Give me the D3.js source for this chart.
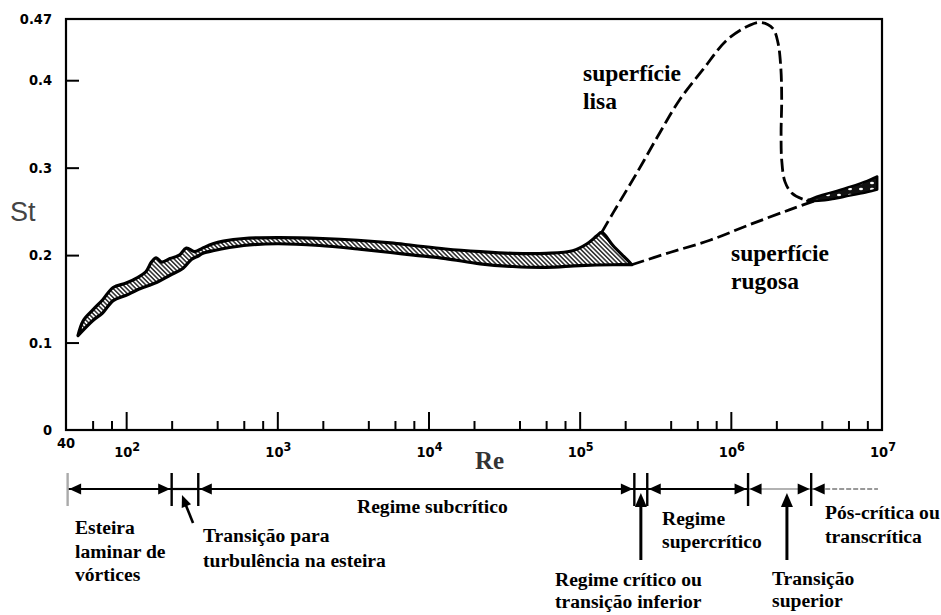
<!DOCTYPE html>
<html>
<head>
<meta charset="utf-8">
<script src="https://cdn.jsdelivr.net/npm/d3@7"></script>
<style>
  html, body { margin: 0; padding: 0; background: #fff; }
  svg { display: block; }
</style>
</head>
<body>
<svg id="chart" width="941" height="615"></svg>
<script>
// Strouhal number St versus Reynolds number Re for a circular cylinder

// ---- axis ticks ----
const yTickValues = [0.1, 0.2, 0.3, 0.4];
const yLabelValues = [0, 0.1, 0.2, 0.3, 0.4, 0.47];
const yLabelTexts = ["0", "0.1", "0.2", "0.3", "0.4", "0.47"];
const xMajorTicks = [1e2, 1e3, 1e4, 1e5, 1e6];
const xMajorExponents = ["2", "3", "4", "5", "6", "7"];
const xMajorLabelValues = [1e2, 1e3, 1e4, 1e5, 1e6, 1e7];
const xMinorTicks = [60, 80, 200, 400, 600, 800,
                     2e3, 4e3, 6e3, 8e3,
                     2e4, 4e4, 6e4, 8e4,
                     2e5, 4e5, 6e5, 8e5,
                     2e6, 4e6, 6e6, 8e6];

// ---- measured band (Re, St): upper and lower edges ----
const bandUpper = [
  [48, 0.108], [52, 0.125], [60, 0.137], [70, 0.149], [82, 0.163],
  [100, 0.168], [118, 0.174], [135, 0.181], [147, 0.192], [158, 0.197],
  [172, 0.192], [195, 0.196], [225, 0.200], [250, 0.208], [285, 0.204],
  [320, 0.208], [375, 0.213], [440, 0.216], [600, 0.219], [1000, 0.220],
  [2000, 0.219], [3400, 0.217], [5600, 0.214], [8000, 0.211], [13000, 0.207],
  [22000, 0.204], [36000, 0.202], [60000, 0.202], [90000, 0.205],
  [112000, 0.213], [130000, 0.222], [140000, 0.226], [166000, 0.211],
  [205000, 0.195], [221000, 0.189]
];
const bandLower = [
  [48, 0.108], [60, 0.125], [70, 0.134], [82, 0.148], [100, 0.154],
  [118, 0.160], [160, 0.169], [195, 0.177], [238, 0.185], [270, 0.195],
  [300, 0.199], [322, 0.202], [375, 0.205], [600, 0.211], [1000, 0.213],
  [1900, 0.211], [3400, 0.207], [5600, 0.203], [8000, 0.200], [13000, 0.196],
  [22000, 0.190], [36000, 0.187], [60000, 0.186], [100000, 0.188],
  [166000, 0.189], [221000, 0.189]
];

// ---- post-critical band (Re, St) ----
const postUpper = [
  [3.2e6, 0.262], [3.6e6, 0.266], [4.7e6, 0.272], [6.1e6, 0.278],
  [8.0e6, 0.285], [9.3e6, 0.290]
];
const postLower = [
  [3.2e6, 0.262], [3.8e6, 0.262], [4.7e6, 0.264], [6.1e6, 0.268],
  [8.0e6, 0.272], [9.3e6, 0.275]
];

// ---- dashed curves (Re, St) ----
const smoothSurface = [
  [1.40e5, 0.226], [1.66e5, 0.248], [2.39e5, 0.294], [3.39e5, 0.340],
  [4.60e5, 0.378], [6.53e5, 0.412], [9.42e5, 0.446], [1.34e6, 0.463],
  [1.60e6, 0.466], [1.90e6, 0.459], [2.05e6, 0.443], [2.14e6, 0.415],
  [2.17e6, 0.378], [2.15e6, 0.340], [2.17e6, 0.309], [2.28e6, 0.284],
  [2.53e6, 0.271], [2.99e6, 0.264], [3.33e6, 0.263]
];
const roughSurface = [
  [2.21e5, 0.189], [3.95e5, 0.203], [7.26e5, 0.217], [1.34e6, 0.235],
  [2.46e6, 0.252], [3.71e6, 0.263]
];

// ---- flow regimes along Re ----
const regimeBounds = [41, 200, 300, 2.3e5, 2.8e5, 1.3e6, 3.4e6];
const regimeLineEnd = 9.4e6;
const transitionMarks = [2.54e5, 2.35e6];

// ---- text ----
const curveLabels = [
  { lines: ["superfície", "lisa"], x: 583, y: 81 },
  { lines: ["superfície", "rugosa"], x: 731, y: 261 }
];
const regimeLabels = [
  { lines: ["Esteira", "laminar de", "vórtices"], x: 75, y: 534, dy: 23.5 },
  { lines: ["Transição para", "turbulência na esteira"], x: 203, y: 542, dy: 25 },
  { lines: ["Regime subcrítico"], x: 357, y: 513, dy: 0 },
  { lines: ["Regime", "supercrítico"], x: 662, y: 525, dy: 23 },
  { lines: ["Regime crítico ou", "transição inferior"], x: 555, y: 586, dy: 22 },
  { lines: ["Transição", "superior"], x: 772, y: 585, dy: 22 },
  { lines: ["Pós-crítica ou", "transcrítica"], x: 825, y: 519, dy: 24 }
];

const svg = d3.select("#chart");

const x = d3.scaleLog().domain([40, 1e7]).range([66, 882]);
const y = d3.scaleLinear().domain([0, 0.47]).range([430, 19]);

// patterns
const defs = svg.append("defs");
const hatch = defs.append("pattern")
  .attr("id", "hatch")
  .attr("patternUnits", "userSpaceOnUse")
  .attr("width", 3.2).attr("height", 3.2)
  .attr("patternTransform", "rotate(-45)");
hatch.append("rect").attr("width", 3.2).attr("height", 3.2).attr("fill", "#fff");
hatch.append("line").attr("x1", 0.8).attr("y1", 0).attr("x2", 0.8).attr("y2", 3.2)
  .attr("stroke", "#1a1a1a").attr("stroke-width", 1.4);

const speck = defs.append("pattern")
  .attr("id", "speck")
  .attr("patternUnits", "userSpaceOnUse")
  .attr("width", 11).attr("height", 6);
speck.append("rect").attr("width", 11).attr("height", 6).attr("fill", "#111");
speck.append("ellipse").attr("cx", 3).attr("cy", 3).attr("rx", 2).attr("ry", 1.2).attr("fill", "#fff");

// frame
svg.append("rect")
  .attr("x", x(40)).attr("y", y(0.47))
  .attr("width", x(1e7) - x(40)).attr("height", y(0) - y(0.47))
  .attr("fill", "none").attr("stroke", "#000").attr("stroke-width", 2.2);

// inward ticks
const xMinorAxis = d3.axisBottom(x).tickValues(xMinorTicks).tickSize(-9).tickFormat("");
const xMajorAxis = d3.axisBottom(x).tickValues(xMajorTicks).tickSize(-18).tickFormat("");
const yAxis = d3.axisLeft(y).tickValues(yTickValues).tickSize(-13).tickFormat("");

[xMinorAxis, xMajorAxis].forEach(ax => {
  const g = svg.append("g").attr("transform", `translate(0,${y(0)})`).call(ax);
  g.select(".domain").remove();
  g.selectAll(".tick line").attr("stroke", "#000").attr("stroke-width", 2);
});
{
  const g = svg.append("g").attr("transform", `translate(${x(40)},0)`).call(yAxis);
  g.select(".domain").remove();
  g.selectAll(".tick line").attr("stroke", "#000").attr("stroke-width", 2);
}

// tick labels
const tickFont = "'DejaVu Sans Condensed','Liberation Sans Narrow','DejaVu Sans',sans-serif";
svg.append("g").selectAll("text").data(yLabelValues).join("text")
  .attr("x", 52).attr("y", d => y(d)).attr("dy", "0.36em")
  .attr("text-anchor", "end")
  .attr("font-family", tickFont).attr("font-weight", "bold").attr("font-size", 14.5)
  .attr("fill", "#000")
  .text((d, i) => yLabelTexts[i]);

svg.append("text")
  .attr("x", x(40)).attr("y", 448).attr("text-anchor", "middle")
  .attr("font-family", tickFont).attr("font-weight", "bold").attr("font-size", 14.5)
  .attr("fill", "#000").text("40");

const pow = svg.append("g").selectAll("text").data(xMajorLabelValues).join("text")
  .attr("x", d => x(d) - 12).attr("y", 457)
  .attr("font-family", tickFont).attr("font-weight", "bold").attr("font-size", 14.5)
  .attr("fill", "#000");
pow.append("tspan").text("10");
pow.append("tspan").attr("dy", -6).attr("font-size", 12.5).text((d, i) => xMajorExponents[i]);

// axis titles
const serif = "'Liberation Serif','Times New Roman','DejaVu Serif',serif";
svg.append("text").attr("x", 10).attr("y", 221)
  .attr("font-family", "'Liberation Sans',Arial,sans-serif").attr("font-size", 27)
  .attr("fill", "#444").text("St");
svg.append("text").attr("x", 475).attr("y", 469)
  .attr("font-family", serif).attr("font-weight", "bold")
  .attr("font-size", 25).attr("fill", "#333").text("Re");

// band outlines
const edge = d3.line().x(d => x(d[0])).y(d => y(d[1])).curve(d3.curveCatmullRom.alpha(0.5));
function bandPath(upper, lower) {
  return edge(upper) + edge(lower.slice().reverse()).replace(/^M/, "L") + "Z";
}

svg.append("path")
  .attr("d", bandPath(bandUpper, bandLower))
  .attr("fill", "url(#hatch)").attr("stroke", "#000")
  .attr("stroke-width", 3.2).attr("stroke-linejoin", "round");

// dashed curves
[smoothSurface, roughSurface].forEach(data => {
  svg.append("path")
    .attr("d", edge(data))
    .attr("fill", "none").attr("stroke", "#000")
    .attr("stroke-width", 2.8).attr("stroke-dasharray", "13,5");
});

svg.append("path")
  .attr("d", bandPath(postUpper, postLower))
  .attr("fill", "url(#speck)").attr("stroke", "#000")
  .attr("stroke-width", 2.4).attr("stroke-linejoin", "round");

// curve labels
curveLabels.forEach(l => {
  const t = svg.append("text").attr("font-family", serif).attr("font-weight", "bold")
    .attr("font-size", 23.5).attr("fill", "#000");
  l.lines.forEach((s, i) => {
    t.append("tspan").attr("x", l.x).attr("y", l.y + i * 28).text(s);
  });
});

// regime line
const lineY = 489;
const reg = svg.append("g");

function head(xTip, yTip, dir) {
  // dir: "left" | "right" | "up"
  let p;
  if (dir === "left") p = [[xTip, yTip], [xTip + 12, yTip - 5.5], [xTip + 12, yTip + 5.5]];
  else if (dir === "right") p = [[xTip, yTip], [xTip - 12, yTip - 5.5], [xTip - 12, yTip + 5.5]];
  else p = [[xTip, yTip], [xTip - 6, yTip + 14], [xTip + 6, yTip + 14]];
  reg.append("path").attr("d", "M" + p.join("L") + "Z").attr("fill", "#000");
}

const segments = [
  { a: regimeBounds[0], b: regimeBounds[1], color: "#000", w: 2.2, dash: null, heads: [true, true] },
  { a: regimeBounds[1], b: regimeBounds[2], color: "#000", w: 2.2, dash: null, heads: [false, false] },
  { a: regimeBounds[2], b: regimeBounds[3], color: "#000", w: 2.2, dash: null, heads: [true, true] },
  { a: regimeBounds[4], b: regimeBounds[5], color: "#000", w: 2.2, dash: null, heads: [true, true] },
  { a: regimeBounds[5], b: regimeBounds[6], color: "#999", w: 1.6, dash: null, heads: [true, true] },
  { a: regimeBounds[6], b: regimeLineEnd, color: "#999", w: 2, dash: "5,2", heads: [true, false] }
];
segments.forEach(s => {
  const l = reg.append("line")
    .attr("x1", x(s.a)).attr("x2", x(s.b)).attr("y1", lineY).attr("y2", lineY)
    .attr("stroke", s.color).attr("stroke-width", s.w);
  if (s.dash) l.attr("stroke-dasharray", s.dash);
  if (s.heads[0]) head(x(s.a) + 1.5, lineY, "left");
  if (s.heads[1]) head(x(s.b) - 1.5, lineY, "right");
});
// gap between the critical bars
reg.append("line").attr("x1", x(regimeBounds[3])).attr("x2", x(regimeBounds[4]))
  .attr("y1", lineY).attr("y2", lineY).attr("stroke", "#000").attr("stroke-width", 2);

regimeBounds.forEach((b, i) => {
  reg.append("line")
    .attr("x1", x(b)).attr("x2", x(b)).attr("y1", 473).attr("y2", 506)
    .attr("stroke", i === 0 ? "#aaa" : "#000").attr("stroke-width", 2.4);
});

// arrows from below marking the transitions
transitionMarks.forEach(m => {
  reg.append("line").attr("x1", x(m)).attr("x2", x(m)).attr("y1", 560).attr("y2", 505)
    .attr("stroke", "#000").attr("stroke-width", 3);
  head(x(m), 493, "up");
});

// small slanted arrow pointing at the wake transition
{
  const x0 = x(277), y0 = 523, x1 = x(234), y1 = 495;
  reg.append("line").attr("x1", x0).attr("y1", y0).attr("x2", x1 + 3).attr("y2", y1 + 8)
    .attr("stroke", "#000").attr("stroke-width", 2.6);
  const ang = Math.atan2(y1 - y0, x1 - x0);
  const L = 12, H = 5;
  const bx = x1 - L * Math.cos(ang), by = y1 - L * Math.sin(ang);
  const px = -Math.sin(ang) * H, py = Math.cos(ang) * H;
  reg.append("path")
    .attr("d", `M${x1},${y1}L${bx + px},${by + py}L${bx - px},${by - py}Z`)
    .attr("fill", "#000");
}

// regime labels
regimeLabels.forEach(l => {
  const t = svg.append("text").attr("font-family", serif).attr("font-weight", "bold")
    .attr("font-size", 19.6).attr("fill", "#000");
  l.lines.forEach((s, i) => {
    t.append("tspan").attr("x", l.x).attr("y", l.y + i * l.dy).text(s);
  });
});
</script>
</body>
</html>
